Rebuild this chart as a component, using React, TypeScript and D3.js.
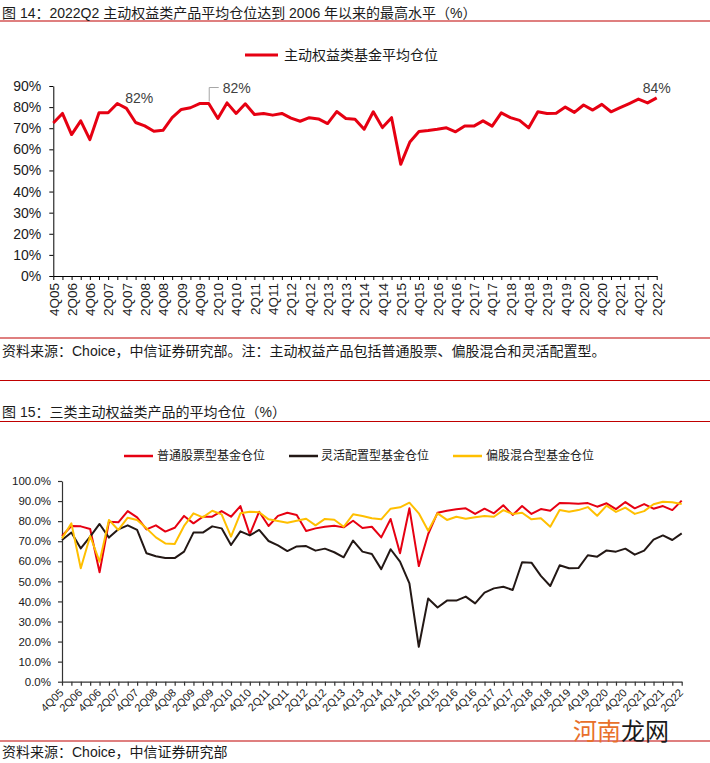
import React, { useRef, useEffect } from "react";
import * as d3 from "d3";

// quarter categories, 4Q05 .. 2Q22
const quarters = [
  "4Q05",
  "1Q06", "2Q06", "3Q06", "4Q06",
  "1Q07", "2Q07", "3Q07", "4Q07",
  "1Q08", "2Q08", "3Q08", "4Q08",
  "1Q09", "2Q09", "3Q09", "4Q09",
  "1Q10", "2Q10", "3Q10", "4Q10",
  "1Q11", "2Q11", "3Q11", "4Q11",
  "1Q12", "2Q12", "3Q12", "4Q12",
  "1Q13", "2Q13", "3Q13", "4Q13",
  "1Q14", "2Q14", "3Q14", "4Q14",
  "1Q15", "2Q15", "3Q15", "4Q15",
  "1Q16", "2Q16", "3Q16", "4Q16",
  "1Q17", "2Q17", "3Q17", "4Q17",
  "1Q18", "2Q18", "3Q18", "4Q18",
  "1Q19", "2Q19", "3Q19", "4Q19",
  "1Q20", "2Q20", "3Q20", "4Q20",
  "1Q21", "2Q21", "3Q21", "4Q21",
  "1Q22", "2Q22",
];

// 图14: 主动权益类基金平均仓位 (%)
const activeEquity = [
  72.5, 77, 67, 73.5, 64.6, 77.3, 77.3, 81.7, 79.4, 72.7,
  71.1, 68.6, 69, 75, 78.9, 79.7, 81.7, 81.7, 74.6, 82,
  77, 81.6, 76.5, 77, 76.2, 77, 74.8, 73.3, 75, 74.4,
  72.2, 77.9, 74.6, 74.3, 69.5, 77.8, 70.3, 75, 52.9, 63.5,
  68.4, 68.9, 69.5, 70.2, 68.3, 71.1, 71, 73.5, 71, 77.3,
  75, 73.7, 70.2, 77.8, 77, 77.1, 80, 77.5, 81, 78.6,
  81.3, 77.8, 79.7, 81.7, 83.8, 82, 84.4,
];

// 图15: 普通股票型基金仓位
const stockFund = [
  72.6, 77.6, 77.4, 76.1, 54.5, 79.7, 79.4, 85, 81.9, 75.9,
  77.9, 74.8, 76.7, 82.6, 78.9, 82.2, 82.2, 85, 82.2, 87.5,
  73.4, 84.7, 77.6, 82.6, 84.2, 83.1, 75.1, 76.4, 77.2, 77.7,
  76.9, 80.2, 76.6, 77.2, 71.9, 81.1, 64, 86.4, 57.6, 73.6,
  84.2, 85.2, 85.9, 86.4, 83.6, 86.2, 83.9, 87.9, 83.1, 87.5,
  83.6, 86, 85.2, 89, 88.9, 88.7, 89, 87.2, 88.9, 86,
  89.5, 86.4, 88.5, 86.2, 87.5, 85.5, 90.2,
];

// 灵活配置型基金仓位
const flexibleFund = [
  70.6, 74.3, 66.4, 72.3, 78.6, 71.8, 75.9, 77.9, 75.6, 64,
  62.5, 61.6, 61.6, 64.8, 74.3, 74.3, 77.4, 76.4, 68.1, 74.9,
  72.9, 75.6, 70.1, 67.9, 65.1, 67.4, 67.6, 65.3, 66.3, 64.5,
  62, 70.3, 64.8, 63.6, 56.1, 66, 59.8, 49, 17.4, 41.5,
  37, 40.4, 40.4, 42.4, 39, 44.4, 46.5, 47.3, 45.7, 59.5,
  59.3, 52.7, 47.7, 58, 56.5, 56.6, 63, 62.3, 65.4, 64.8,
  66.3, 63.3, 65.3, 70.8, 72.9, 70.6, 73.9,
];

// 偏股混合型基金仓位
const hybridFund = [
  71.4, 78.9, 56.5, 72.6, 59.8, 80.6, 75.6, 81.7, 80.6, 76.4,
  71.9, 68.9, 68.6, 77.6, 83.9, 81.9, 85.2, 83.4, 72.3, 83.9,
  84.7, 84.4, 80.9, 80.1, 79.2, 80.2, 81.2, 77.9, 81.1, 80.7,
  77.2, 83.4, 82.6, 81.4, 80.9, 86.2, 86.9, 89.2, 83.9, 75.2,
  83.9, 80.6, 82.2, 81.2, 81.9, 82.6, 82.2, 85.5, 83.6, 84.2,
  80.9, 81.4, 77.2, 85.5, 84.7, 85.5, 87, 82.7, 87.7, 84.6,
  86.7, 83.6, 85, 88.4, 89.7, 89.4, 88.5,
];

const ticks1 = [0, 10, 20, 30, 40, 50, 60, 70, 80, 90];
const ticks2 = [0, 10, 20, 30, 40, 50, 60, 70, 80, 90, 100];

const FONT = "'Liberation Sans', Arial, 'Noto Sans CJK SC', sans-serif";
const RED = "#e60012";
const RULE = "#c00000";
const TEXT = "#1a1a1a";

export default function App() {
  const svgRef = useRef<SVGSVGElement>(null);

  useEffect(() => {
    const svg = d3.select(svgRef.current);
    svg.selectAll("*").remove();
    svg.attr("font-family", FONT);

    // page rules
    [21, 338, 380.5, 421.5, 741].forEach((y) => {
      svg.append("line")
        .attr("x1", 0).attr("x2", 710)
        .attr("y1", y).attr("y2", y)
        .attr("stroke", RULE)
        .attr("stroke-width", 1.2);
    });

    const addText = (x: number, y: number, txt: string, size: number, fill = TEXT) =>
      svg.append("text")
        .attr("x", x).attr("y", y)
        .attr("dominant-baseline", "central")
        .attr("font-size", size)
        .attr("fill", fill)
        .text(txt);

    addText(2, 12.5, "图 14：2022Q2 主动权益类产品平均仓位达到 2006 年以来的最高水平（%）", 14);
    addText(2, 351, "资料来源：Choice，中信证券研究部。注：主动权益产品包括普通股票、偏股混合和灵活配置型。", 14);
    addText(2, 412, "图 15：三类主动权益类产品的平均仓位（%）", 14);
    addText(2, 751.5, "资料来源：Choice，中信证券研究部", 14);

    // ---------- CHART 1 ----------
    const x1 = d3.scalePoint<string>().domain(quarters).range([53.3, 656.7]);
    const y1 = d3.scaleLinear().domain([0, 90]).range([276, 86]);

    svg.append("line")
      .attr("x1", 245).attr("x2", 278).attr("y1", 55).attr("y2", 55)
      .attr("stroke", RED).attr("stroke-width", 3);
    addText(284, 55, "主动权益类基金平均仓位", 14);

    const gy1 = svg.append("g")
      .attr("transform", "translate(53.3,0)")
      .call(d3.axisLeft(y1).tickValues(ticks1).tickSize(4).tickSizeOuter(0).tickPadding(8).tickFormat((d) => `${d}%`));
    gy1.selectAll("text").attr("font-size", 14).attr("fill", TEXT).attr("font-family", FONT);

    const gx1 = svg.append("g")
      .attr("transform", "translate(0,276)")
      .call(d3.axisBottom(x1).tickSize(4).tickSizeOuter(0).tickFormat((d, i) => (i % 2 === 0 ? d : "")));
    gx1.selectAll("text")
      .attr("font-size", 13.5)
      .attr("fill", TEXT)
      .attr("font-family", FONT)
      .attr("text-anchor", "end")
      .attr("transform", "rotate(-90)")
      .attr("x", -7)
      .attr("y", 0)
      .attr("dy", "0.35em");
    [gx1, gy1].forEach((g) => {
      g.selectAll("path, line").attr("stroke", "#000");
    });

    const line1 = d3.line<number>()
      .x((_, i) => x1(quarters[i]) as number)
      .y((d) => y1(d));

    svg.append("path")
      .datum(activeEquity)
      .attr("d", line1)
      .attr("fill", "none")
      .attr("stroke", RED)
      .attr("stroke-width", 3)
      .attr("stroke-linejoin", "round");

    // data labels
    const lx = (i: number) => x1(quarters[i]) as number;
    const ly = (i: number) => y1(activeEquity[i]);
    addText(lx(7) + 8, ly(7) - 6, "82%", 14, "#404040");
    svg.append("path")
      .attr("d", `M${lx(17) + 0.5},${ly(17) - 2}V${ly(17) - 16}H${lx(17) + 10}`)
      .attr("fill", "none")
      .attr("stroke", "#a6a6a6")
      .attr("stroke-width", 1);
    addText(lx(17) + 14, ly(17) - 16, "82%", 14, "#404040");
    addText(lx(66), ly(66) - 10, "84%", 14, "#404040").attr("text-anchor", "middle");

    // ---------- CHART 2 ----------
    const x2 = d3.scalePoint<string>().domain(quarters).range([62, 681.7]);
    const y2 = d3.scaleLinear().domain([0, 100]).range([681.7, 481]);

    const series = [
      { name: "普通股票型基金仓位", values: stockFund, color: RED, lx: 124, tx: 157 },
      { name: "灵活配置型基金仓位", values: flexibleFund, color: "#231815", lx: 289, tx: 321 },
      { name: "偏股混合型基金仓位", values: hybridFund, color: "#ffbf00", lx: 453, tx: 486 },
    ];

    series.forEach((s) => {
      svg.append("line")
        .attr("x1", s.lx).attr("x2", s.lx + 29).attr("y1", 456).attr("y2", 456)
        .attr("stroke", s.color).attr("stroke-width", 2.5);
      addText(s.tx, 456, s.name, 12);
    });

    const gy2 = svg.append("g")
      .attr("transform", "translate(62,0)")
      .call(d3.axisLeft(y2).tickValues(ticks2).tickSize(4).tickSizeOuter(0).tickPadding(7).tickFormat((d) => `${(+d).toFixed(1)}%`));
    gy2.selectAll("text").attr("font-size", 11.5).attr("fill", TEXT).attr("font-family", FONT);

    const gx2 = svg.append("g")
      .attr("transform", "translate(0,681.7)")
      .call(d3.axisBottom(x2).tickSize(4).tickSizeOuter(0).tickFormat((d, i) => (i % 2 === 0 ? d : "")));
    gx2.selectAll("text")
      .attr("font-size", 11)
      .attr("fill", TEXT)
      .attr("font-family", FONT)
      .attr("text-anchor", "end")
      .attr("x", 0)
      .attr("y", 0)
      .attr("dy", "0.35em")
      .attr("transform", "translate(-1,9) rotate(-45)");
    [gx2, gy2].forEach((g) => {
      g.selectAll("path, line").attr("stroke", "#333").attr("stroke-width", 1.2);
    });

    const line2 = d3.line<number>()
      .x((_, i) => x2(quarters[i]) as number)
      .y((d) => y2(d));

    series.forEach((s) => {
      svg.append("path")
        .datum(s.values)
        .attr("d", line2)
        .attr("fill", "none")
        .attr("stroke", s.color)
        .attr("stroke-width", 2)
        .attr("stroke-linejoin", "round");
    });

    // watermark
    const wm = svg.append("text")
      .attr("x", 573)
      .attr("y", 729)
      .attr("dominant-baseline", "central")
      .attr("font-size", 24)
      .attr("font-family", "'Noto Sans CJK SC', sans-serif");
    wm.append("tspan").attr("fill", "#e8702a").text("河南");
    wm.append("tspan").attr("fill", "#1a1a1a").text("龙网");
  }, []);

  return (
    <svg
      ref={svgRef}
      width={710}
      height={763}
      style={{ position: "absolute", left: 0, top: 0, background: "#fff" }}
    />
  );
}
